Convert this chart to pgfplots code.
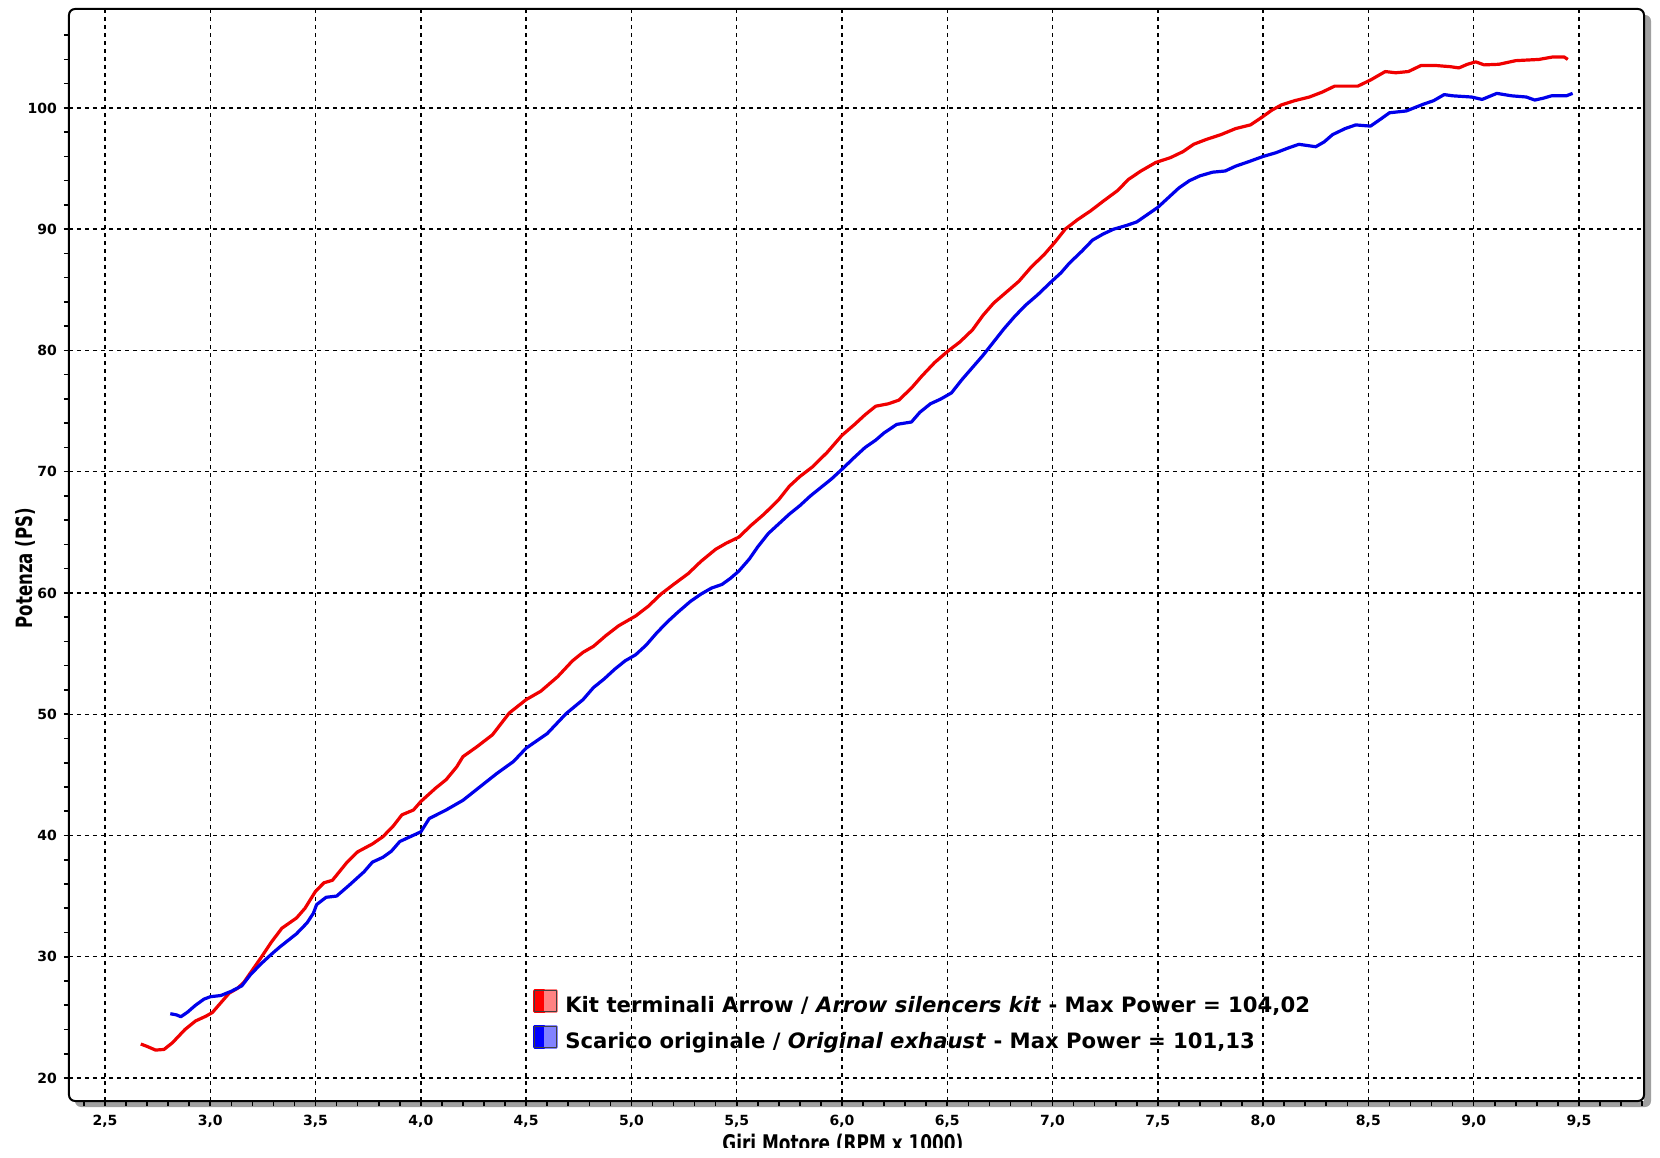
\documentclass[border=0pt]{standalone}
\usepackage{pgfplots}
\pgfplotsset{compat=1.18}
\usepackage{fontspec}
\setmainfont{DejaVu Sans}
\newfontfamily\condfont{DejaVu Sans Condensed}
\definecolor{shadowgray}{RGB}{160,160,160}
\definecolor{cred}{RGB}{240,0,0}
\definecolor{cblue}{RGB}{0,0,235}
\definecolor{lred}{RGB}{255,130,130}
\definecolor{lblue}{RGB}{130,130,255}

\pgfplotstableread{
x y
2.67 22.8
2.70 22.6
2.74 22.3
2.78 22.35
2.82 22.9
2.88 24.0
2.93 24.7
2.98 25.1
3.01 25.4
3.05 26.2
3.09 27.0
3.13 27.4
3.16 27.9
3.20 28.9
3.24 29.9
3.29 31.2
3.34 32.35
3.41 33.2
3.45 34.0
3.50 35.4
3.54 36.1
3.58 36.3
3.65 37.8
3.70 38.65
3.77 39.3
3.82 39.9
3.87 40.8
3.91 41.7
3.965 42.1
4.00 42.8
4.07 43.9
4.12 44.6
4.17 45.65
4.20 46.5
4.265 47.3
4.34 48.3
4.42 50.1
4.50 51.2
4.57 51.9
4.65 53.1
4.72 54.4
4.77 55.1
4.82 55.6
4.88 56.5
4.94 57.3
5.02 58.1
5.08 58.9
5.14 59.9
5.20 60.7
5.27 61.6
5.33 62.6
5.40 63.6
5.45 64.1
5.51 64.6
5.57 65.6
5.63 66.5
5.70 67.7
5.75 68.8
5.80 69.6
5.86 70.4
5.93 71.6
6.00 73.0
6.06 73.9
6.11 74.7
6.16 75.4
6.22 75.6
6.27 75.9
6.33 76.9
6.38 77.9
6.44 79.0
6.50 79.9
6.56 80.7
6.62 81.7
6.67 82.9
6.72 83.9
6.78 84.8
6.84 85.7
6.90 86.9
6.96 87.9
7.01 88.9
7.06 90.0
7.12 90.8
7.18 91.5
7.24 92.3
7.31 93.2
7.36 94.1
7.42 94.8
7.49 95.5
7.56 95.9
7.62 96.4
7.67 97.0
7.73 97.4
7.80 97.8
7.87 98.3
7.94 98.6
8.00 99.3
8.04 99.8
8.087 100.25
8.15 100.6
8.22 100.9
8.28 101.3
8.34 101.8
8.40 101.8
8.45 101.8
8.51 102.3
8.58 103.0
8.63 102.9
8.69 103.0
8.75 103.5
8.82 103.5
8.89 103.4
8.93 103.3
8.97 103.6
9.01 103.8
9.05 103.55
9.12 103.6
9.20 103.9
9.31 104.0
9.375 104.2
9.43 104.2
9.447 104.0
}\arrow

\pgfplotstableread{
x y
2.81 25.3
2.84 25.2
2.86 25.05
2.89 25.4
2.93 26.0
2.97 26.5
3.00 26.7
3.05 26.8
3.10 27.15
3.15 27.6
3.19 28.5
3.24 29.4
3.29 30.2
3.33 30.8
3.41 31.9
3.46 32.8
3.49 33.6
3.505 34.3
3.55 34.9
3.60 35.0
3.66 35.9
3.73 37.0
3.77 37.8
3.82 38.2
3.86 38.7
3.90 39.5
3.95 39.9
4.00 40.3
4.04 41.4
4.12 42.1
4.20 42.9
4.28 44.0
4.36 45.1
4.44 46.1
4.50 47.2
4.60 48.4
4.69 50.05
4.77 51.2
4.82 52.2
4.87 52.9
4.92 53.7
4.97 54.4
5.02 54.9
5.07 55.7
5.12 56.7
5.17 57.6
5.22 58.4
5.28 59.3
5.33 59.9
5.38 60.4
5.43 60.7
5.47 61.2
5.51 61.8
5.56 62.8
5.60 63.8
5.65 64.9
5.70 65.7
5.75 66.5
5.80 67.2
5.85 68.0
5.90 68.7
5.95 69.4
6.00 70.2
6.06 71.2
6.11 72.0
6.16 72.6
6.20 73.2
6.26 73.9
6.33 74.1
6.37 74.9
6.42 75.6
6.47 76.0
6.52 76.5
6.57 77.6
6.62 78.6
6.67 79.6
6.72 80.7
6.77 81.8
6.82 82.8
6.87 83.7
6.93 84.6
6.99 85.6
7.04 86.4
7.08 87.2
7.14 88.2
7.19 89.1
7.24 89.6
7.29 90.0
7.35 90.3
7.40 90.6
7.45 91.2
7.50 91.8
7.55 92.6
7.60 93.4
7.65 94.0
7.70 94.4
7.76 94.7
7.82 94.8
7.87 95.2
7.937 95.6
8.00 96.0
8.06 96.3
8.12 96.7
8.17 97.0
8.25 96.8
8.29 97.2
8.33 97.8
8.39 98.3
8.44 98.6
8.51 98.5
8.56 99.1
8.60 99.6
8.68 99.75
8.76 100.3
8.81 100.6
8.86 101.1
8.90 101.0
8.99 100.9
9.04 100.7
9.11 101.2
9.18 101.0
9.25 100.9
9.29 100.65
9.33 100.8
9.37 101.0
9.44 101.0
9.47 101.2
}\original

\begin{document}
\begin{tikzpicture}
\fill[shadowgray, rounded corners=3pt] (3pt,-3pt) rectangle (791pt,543pt);
\fill[white] (0,0) rectangle (787.5pt,546pt);
\begin{axis}[
  at={(0,0)}, anchor=south west,
  scale only axis, width=787.5pt, height=546pt,
  xmin=2.329, xmax=9.809, ymin=18.10, ymax=108.16,
  xtick={2.5,3.0,3.5,4.0,4.5,5.0,5.5,6.0,6.5,7.0,7.5,8.0,8.5,9.0,9.5},
  minor xtick={2.4,2.5,...,9.8},
  ytick={20,30,...,100},
  minor ytick={20,22,...,106},
  tick pos=left, tick align=outside,
  major tick length=2.5pt, minor tick length=2.5pt,
  every tick/.style={black, line width=0.8pt},
  every minor tick/.style={black, line width=0.8pt},
  axis line style={draw=none},
  grid=major,
  major grid style={black, line width=0.7pt, dash pattern=on 2pt off 2pt},
  xticklabel={\pgfmathprintnumber[fixed,fixed zerofill,precision=1,use comma,assume math mode=true]{\tick}},
  yticklabel={\pgfmathprintnumber[fixed,precision=0,assume math mode=true]{\tick}},
  ticklabel style={font=\fontsize{7}{8}\selectfont\bfseries},
  xticklabel style={yshift=-1.2pt},
  xlabel={\scalebox{1}[1.22]{Giri Motore (RPM x 1000)}},
  xlabel style={at={(axis description cs:0.4914,-0.04625)}, anchor=base, inner sep=0pt, font=\condfont\bfseries\fontsize{9.4}{11}\selectfont},
  ylabel={\scalebox{1}[1.22]{Potenza (PS)}},
  ylabel style={at={(axis description cs:-0.0229,0.488)}, anchor=base, inner sep=0pt, font=\condfont\bfseries\fontsize{9.2}{11}\selectfont},
  legend style={at={(rel axis cs:0.2944,0.1026)}, anchor=north west, draw=none, fill=none, inner sep=0pt,
    row sep=3pt, column sep=3.7pt,
    font=\bfseries\fontsize{10.6}{12}\selectfont,
    nodes={inner sep=0pt, text height=10.3pt, text depth=3pt}},
  legend cell align=left,
]
\addplot[cred, line width=1.6pt, line join=round,
  legend image code/.code={
    \fill[red] (0pt,-3pt) rectangle (5.4pt,7.3pt);
    \fill[lred] (5.4pt,-3pt) rectangle (10.8pt,7.3pt);
    \draw[black!75, line width=0.5pt] (0pt,-3pt) rectangle (10.8pt,7.3pt);
  }] table[x=x,y=y] {\arrow};
\addlegendentry{Kit terminali Arrow / \textit{Arrow silencers kit} - Max Power = 104,02}
\addplot[cblue, line width=1.6pt, line join=round,
  legend image code/.code={
    \fill[blue] (0pt,-3pt) rectangle (5.4pt,7.3pt);
    \fill[lblue] (5.4pt,-3pt) rectangle (10.8pt,7.3pt);
    \draw[black!75, line width=0.5pt] (0pt,-3pt) rectangle (10.8pt,7.3pt);
  }] table[x=x,y=y] {\original};
\addlegendentry{Scarico originale / \textit{Original exhaust} - Max Power = 101,13}
\end{axis}
\draw[black, line width=1pt, rounded corners=3pt] (0,0) rectangle (787.5pt,546pt);
\fill[white] (-34.5pt,-28pt) rectangle (795.5pt,-23.5pt);
\pgfresetboundingbox
\path (-34.5pt,-28pt) rectangle (795.5pt,550.5pt);
\end{tikzpicture}
\end{document}
